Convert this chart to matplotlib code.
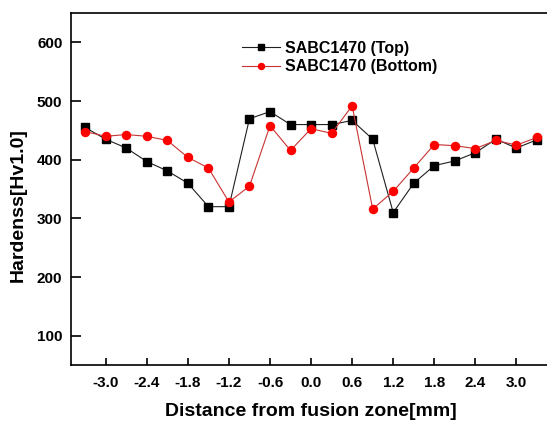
import matplotlib.pyplot as plt
import numpy as np

plt.rcParams['font.family'] = ['Liberation Sans', 'DejaVu Sans']
plt.rcParams['font.weight'] = 'bold'

# Messpunkte (Abstand zur Schmelzzone in mm)
distance = [-3.3, -3.0, -2.7, -2.4, -2.1, -1.8, -1.5, -1.2, -0.9, -0.6, -0.3, 0.0,
            0.3, 0.6, 0.9, 1.2, 1.5, 1.8, 2.1, 2.4, 2.7, 3.0, 3.3]
hv_top = [455, 435, 420, 397, 381, 360, 320, 320, 470, 482, 460, 460,
          460, 467, 435, 310, 360, 390, 398, 412, 435, 420, 434]
hv_bottom = [448, 440, 443, 440, 433, 404, 386, 328, 355, 458, 416, 453,
             445, 492, 316, 346, 386, 426, 424, 419, 433, 425, 438]
labels = ['SABC1470 (Top)', 'SABC1470 (Bottom)']
xticks = [-3.0, -2.4, -1.8, -1.2, -0.6, 0.0, 0.6, 1.2, 1.8, 2.4, 3.0]
yticks = [100, 200, 300, 400, 500, 600]

fig = plt.figure(figsize=(5.47, 4.23), dpi=100)
ax = fig.add_axes([0.1307, 0.137, 0.876, 0.832])

ax.plot(distance, hv_top, color='#202020', lw=0.8, marker='s', markersize=5.2,
        markerfacecolor='black', markeredgecolor='black', label=labels[0])
ax.plot(distance, hv_bottom, color='#c83232', lw=0.8, marker='o', markersize=5.8,
        markerfacecolor='red', markeredgecolor='red', label=labels[1])

ax.set_xlim(-3.5, 3.5)
ax.set_ylim(50, 650)
ax.set_xticks(xticks)
ax.set_xticklabels([f'{v:.1f}' for v in xticks])
ax.set_yticks(yticks)

ax.spines['right'].set_visible(False)
for s in ['left', 'bottom', 'top']:
    ax.spines[s].set_linewidth(1.2)
ax.tick_params(axis='x', direction='in', length=5, width=1.2, labelsize=11, pad=8)
ax.tick_params(axis='y', direction='in', length=7, width=1.2, labelsize=11, pad=6.5)

ax.set_xlabel('Distance from fusion zone[mm]', fontsize=14, fontweight='bold', labelpad=9)
ax.set_ylabel('Hardenss[Hv1.0]', fontsize=14, fontweight='bold', va='center')
ax.yaxis.set_label_coords(-0.112, 0.455)

ax.legend(loc='upper left', bbox_to_anchor=(242 / 547, 1 - 41 / 423),
          bbox_transform=fig.transFigure, frameon=False, fontsize=11.5,
          handlelength=2.4, handletextpad=0.3, labelspacing=0.2,
          borderpad=0, borderaxespad=0, markerscale=0.75)

fig.savefig('out.png', dpi=100)
